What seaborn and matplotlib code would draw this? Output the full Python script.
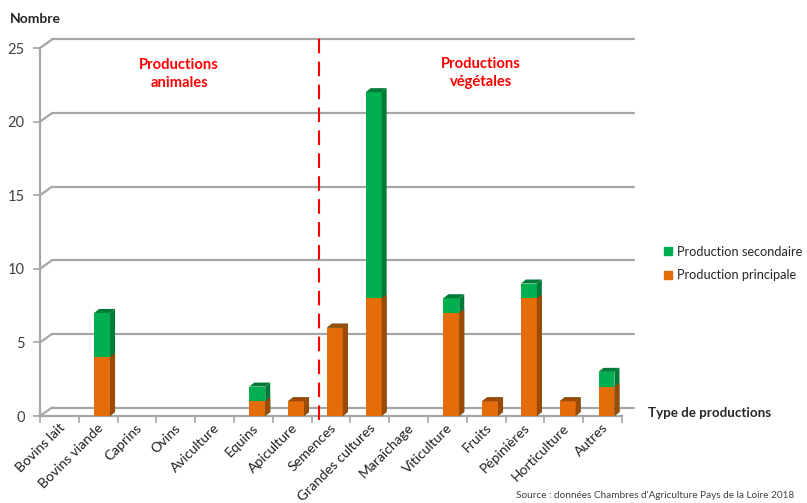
import matplotlib
matplotlib.use("Agg")
import matplotlib.pyplot as plt
import matplotlib.transforms as mtransforms
from matplotlib.patches import Polygon
from matplotlib.lines import Line2D
import seaborn as sns

categories = ["Bovins lait", "Bovins viande", "Caprins", "Ovins", "Aviculture", "Equins",
              "Apiculture", "Semences", "Grandes cultures", "Maraîchage", "Viticulture",
              "Fruits", "Pépinières", "Horticulture", "Autres"]
principale = [0, 4, 0, 0, 0, 1, 1, 6, 8, 0, 7, 1, 8, 1, 2]
secondaire = [0, 3, 0, 0, 0, 1, 0, 0, 14, 0, 1, 0, 1, 0, 1]
y_ticks = [0, 5, 10, 15, 20, 25]

ORANGE = "#E46C0A"
ORANGE_D = "#9C4A06"
GREEN = "#00B050"
GREEN_D = "#007A37"
GRID = "#A6A6A6"

sns.set_theme(style="white")
plt.rcParams["font.family"] = ["Lato", "DejaVu Sans"]

fig = plt.figure(figsize=(8.07, 5.03), dpi=100)
ax = fig.add_axes([40 / 807, 1 - 416 / 503, 582 / 807, 368 / 503])

totals = [p + s for p, s in zip(principale, secondaire)]
sns.barplot(x=categories, y=totals, order=categories, color=GREEN, width=0.41,
            saturation=1, ax=ax, zorder=3, linewidth=0, edgecolor="none")
n_green = len(ax.patches)
sns.barplot(x=categories, y=principale, order=categories, color=ORANGE, width=0.41,
            saturation=1, ax=ax, zorder=5, linewidth=0, edgecolor="none")

ax.set_xlim(-0.6, 14.4)
ax.set_ylim(0, 25)

# pseudo-3D depth
px_x = 582 / 15.0
px_y = 368 / 25.0
ddx = 5 / px_x
ddy = 4 / px_y
patches = list(ax.patches)
for i, p in enumerate(patches):
    x, y0, w, h = p.get_x(), p.get_y(), p.get_width(), p.get_height()
    if h <= 0:
        continue
    is_green = i < n_green
    dark = GREEN_D if is_green else ORANGE_D
    z = 3.5 if is_green else 5.5
    side = Polygon([(x + w, y0), (x + w + ddx, y0 + ddy), (x + w + ddx, y0 + h + ddy), (x + w, y0 + h)],
                   closed=True, facecolor=dark, edgecolor="none", zorder=z)
    ax.add_patch(side)
    idx = i if is_green else i - n_green
    draw_top = is_green or secondaire[idx] == 0
    if draw_top:
        top = Polygon([(x, y0 + h), (x + ddx, y0 + h + ddy), (x + w + ddx, y0 + h + ddy), (x + w, y0 + h)],
                      closed=True, facecolor=dark, edgecolor="none", zorder=z + 0.1)
        ax.add_patch(top)

# back-wall gridlines
gx = 12 / px_x
gy = 8.5 / px_y
x0, x1 = -0.6, 14.4
for v in y_ticks:
    ax.plot([x0 + gx, x1 + gx], [v + gy, v + gy], color=GRID, lw=1.6, clip_on=False, zorder=1)
    ax.plot([x0, x0 + gx], [v, v + gy], color=GRID, lw=1.6, clip_on=False, zorder=1)

# divider
ax.plot([6.6, 6.6], [-0.3, 26.0], color="#FF0000", lw=1.5, ls=(0, (7, 4)), clip_on=False, zorder=6)

for s in ["top", "right"]:
    ax.spines[s].set_visible(False)
for s in ["left", "bottom"]:
    ax.spines[s].set_color(GRID)
    ax.spines[s].set_linewidth(1.6)

ax.set_yticks(y_ticks)
ax.set_yticklabels([str(v) for v in y_ticks], fontsize=10.5, color="#404040")
ax.tick_params(axis="y", length=5, width=1.2, color=GRID, direction="out", left=True, pad=6)
ax.set_xticks(range(len(categories)))
ax.set_xticklabels(categories, rotation=45, ha="right", rotation_mode="anchor",
                   fontsize=10, color="#202020")
ax.tick_params(axis="x", length=0, pad=4)
shift = mtransforms.ScaledTranslation(-5 / 100, 0, fig.dpi_scale_trans)
for lbl in ax.get_xticklabels():
    lbl.set_transform(lbl.get_transform() + shift)
ax.set_xticks([k - 0.6 for k in range(16)], minor=True)
ax.tick_params(axis="x", which="minor", length=5, width=1.2, color=GRID, direction="out", bottom=True)
ax.set_xlabel("")
ax.set_ylabel("")

fig.text(10 / 807, 1 - 19 / 503, "Nombre", fontsize=10, fontweight="bold", va="center", ha="left")
fig.text(648 / 807, 1 - 413 / 503, "Type de productions", fontsize=9.6, fontweight="bold",
         va="center", ha="left")
fig.text(179 / 807, 1 - 74 / 503, "Productions\nanimales", fontsize=10.6, fontweight="bold",
         color="#FF0000", ha="center", va="center", linespacing=1.3)
fig.text(481 / 807, 1 - 73 / 503, "Productions\nvégétales", fontsize=10.6, fontweight="bold",
         color="#FF0000", ha="center", va="center", linespacing=1.3)
fig.text(516 / 807, 1 - 500 / 503, "Source : données Chambres d'Agriculture Pays de la Loire 2018",
         fontsize=7.2, color="#404040", ha="left", va="bottom")

handles = [Line2D([], [], marker="s", ls="none", color=GREEN, markersize=6),
           Line2D([], [], marker="s", ls="none", color=ORANGE, markersize=6)]
fig.legend(handles, ["Production secondaire", "Production principale"],
           loc="upper left", bbox_to_anchor=(650 / 807, 1 - 234 / 503), frameon=False,
           fontsize=9.2, handletextpad=0.2, labelspacing=0.9, handlelength=1.0)

fig.savefig("out.png", dpi=100)
